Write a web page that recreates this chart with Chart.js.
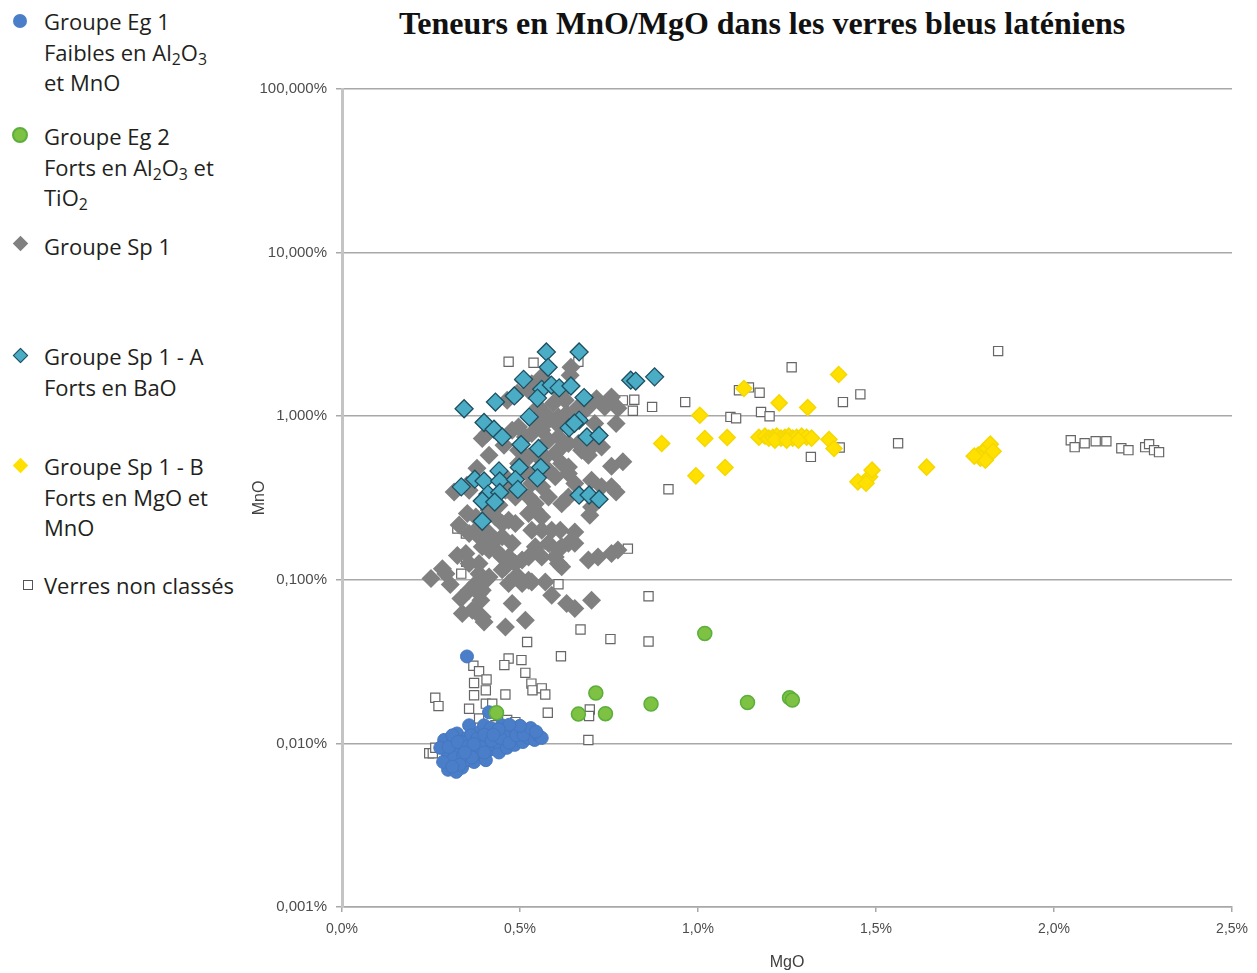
<!DOCTYPE html>
<html>
<head>
<meta charset="utf-8">
<script src="https://cdn.jsdelivr.net/npm/chart.js@4.4.0/dist/chart.umd.min.js"></script>
<style>
  body { margin: 0; background: #fff; width: 1257px; height: 973px; position: relative; overflow: hidden; }
  #title { position: absolute; left: 262px; width: 1000px; top: 5px; text-align: center;
    font: bold 32px "Liberation Serif", "Times New Roman", serif; color: #111; }
  .leg { position: absolute; left: 44px; font: 22px "Open Sans", sans-serif; line-height: 30.5px; color: #231f20; }
  .leg sub { font-size: 0.72em; vertical-align: -0.25em; line-height: 0; }
  .mk { position: absolute; box-sizing: border-box; }
  #chartWrap { position: absolute; left: 240px; top: 0; }
</style>
</head>
<body>
<div id="title">Teneurs en MnO/MgO dans les verres bleus laténiens</div>

<div class="mk" style="left:13px;top:14px;width:14px;height:14px;border-radius:50%;background:#4a7ec8"></div>
<div class="leg" style="top:6px">Groupe Eg 1<br>Faibles en Al<sub>2</sub>O<sub>3</sub><br>et MnO</div>

<div class="mk" style="left:12px;top:127px;width:16px;height:16px;border-radius:50%;background:#7dc242;border:2px solid #5dae3c"></div>
<div class="leg" style="top:121px">Groupe Eg 2<br>Forts en Al<sub>2</sub>O<sub>3</sub> et<br>TiO<sub>2</sub></div>

<div class="mk" style="left:14.5px;top:237.5px;width:11px;height:11px;background:#808080;transform:rotate(45deg)"></div>
<div class="leg" style="top:231px">Groupe Sp 1</div>

<div class="mk" style="left:14.5px;top:349.5px;width:11px;height:11px;background:#4bacc6;border:1.5px solid #1f4e5f;transform:rotate(45deg)"></div>
<div class="leg" style="top:341px">Groupe Sp 1 - A<br>Forts en BaO</div>

<div class="mk" style="left:14.5px;top:459.5px;width:11px;height:11px;background:#ffe000;transform:rotate(45deg)"></div>
<div class="leg" style="top:451px">Groupe Sp 1 - B<br>Forts en MgO et<br>MnO</div>

<div class="mk" style="left:23px;top:580px;width:10px;height:10px;border:1.3px solid #555;background:#fff"></div>
<div class="leg" style="top:570px">Verres non classés</div>

<div id="chartWrap"><canvas id="chart" width="1017" height="973"></canvas></div>

<script>
// axis ticks (percent)
const xTicks = [0, 0.5, 1, 1.5, 2, 2.5]
const yTicks = [0.001, 0.01, 0.1, 1, 10, 100]

// [MgO %, MnO %]
const eg1 = [
  [0.287,0.0105],[0.296,0.0088],[0.307,0.0077],[0.315,0.0098],[0.323,0.0115],[0.329,0.0082],[0.337,0.0071],
  [0.343,0.0094],[0.351,0.0108],[0.357,0.0129],[0.363,0.0088],[0.371,0.0077],[0.379,0.0099],[0.385,0.0117],
  [0.393,0.0085],[0.399,0.0129],[0.407,0.0108],[0.413,0.0091],[0.418,0.0124],[0.427,0.0098],[0.435,0.0112],
  [0.441,0.0088],[0.449,0.0129],[0.455,0.0105],[0.463,0.0094],[0.468,0.0121],[0.477,0.0108],[0.485,0.0098],
  [0.491,0.0124],[0.499,0.0112],[0.508,0.0102],[0.516,0.0121],[0.524,0.0108],[0.533,0.0117],[0.541,0.0105],
  [0.552,0.0112],[0.561,0.0108],[0.298,0.0069],[0.321,0.0067],[0.346,0.0079],[0.374,0.0091],[0.404,0.0079],
  [0.432,0.0102],[0.457,0.0115],[0.482,0.0124],[0.363,0.0112],[0.335,0.0102],[0.315,0.0082],[0.276,0.0094],
  [0.284,0.0077],[0.300,0.0095],[0.310,0.0112],[0.325,0.0102],[0.340,0.0085],[0.355,0.0096],[0.365,0.0082],
  [0.380,0.0107],[0.390,0.0095],[0.400,0.0113],[0.420,0.0104],[0.445,0.0108],[0.470,0.0101],[0.490,0.0112],
  [0.510,0.0113],[0.530,0.0124],[0.545,0.0118],[0.500,0.0128],[0.470,0.0130],[0.440,0.0122],[0.425,0.0113],
  [0.400,0.0088],[0.370,0.0099],[0.345,0.0088],[0.330,0.0074],[0.310,0.0072],[0.351,0.034],[0.413,0.0155]
]

const eg2 = [
  [1.019,0.047],[0.713,0.0203],[0.664,0.0151],[0.740,0.0152],[0.868,0.0174],
  [1.139,0.0178],[1.257,0.019],[1.265,0.0184],[0.434,0.0154]
]

const sp1 = [
  [0.643,1.99],[0.641,1.78],[0.613,1.38],[0.627,1.25],[0.594,1.20],[0.552,1.14],[0.571,1.04],[0.552,0.99],
  [0.580,0.946],[0.524,1.44],[0.492,1.38],[0.464,1.25],[0.715,1.28],[0.738,1.14],[0.757,1.31],[0.770,0.902],
  [0.692,1.14],[0.664,1.14],[0.673,1.04],[0.631,1.04],[0.608,0.99],[0.617,0.902],[0.496,0.86],[0.478,0.821],
  [0.394,0.731],[0.408,0.784],[0.515,0.747],[0.533,0.784],[0.561,0.821],[0.580,0.713],[0.608,0.747],[0.636,0.681],
  [0.664,0.681],[0.701,0.649],[0.729,0.649],[0.524,0.564],[0.561,0.538],[0.599,0.592],[0.617,0.514],[0.636,0.490],
  [0.692,0.578],[0.757,0.495],[0.789,0.526],[0.580,0.468],[0.599,0.426],[0.533,0.388],[0.561,0.370],[0.701,0.406],
  [0.729,0.370],[0.757,0.370],[0.770,0.344],[0.468,0.406],[0.459,0.353],[0.487,0.321],[0.524,0.321],[0.543,0.292],
  [0.580,0.321],[0.617,0.292],[0.636,0.321],[0.701,0.279],[0.696,0.248],[0.315,0.344],[0.357,0.353],[0.352,0.254],
  [0.376,0.242],[0.413,0.266],[0.431,0.242],[0.450,0.221],[0.487,0.221],[0.524,0.254],[0.543,0.266],[0.561,0.242],
  [0.533,0.201],[0.561,0.201],[0.589,0.201],[0.613,0.201],[0.654,0.196],[0.357,0.192],[0.385,0.183],[0.413,0.192],
  [0.450,0.183],[0.478,0.167],[0.394,0.159],[0.431,0.152],[0.468,0.138],[0.487,0.126],[0.506,0.132],[0.543,0.159],
  [0.580,0.167],[0.608,0.152],[0.636,0.167],[0.561,0.138],[0.608,0.126],[0.324,0.141],[0.348,0.145],[0.357,0.126],
  [0.385,0.126],[0.692,0.132],[0.719,0.138],[0.757,0.145],[0.775,0.152],[0.282,0.117],[0.292,0.109],[0.385,0.109],
  [0.413,0.104],[0.394,0.0949],[0.450,0.115],[0.487,0.104],[0.250,0.102],[0.304,0.0936],[0.357,0.0864],[0.385,0.0824],
  [0.468,0.0949],[0.506,0.0949],[0.533,0.0971],[0.571,0.0971],[0.589,0.0805],[0.631,0.0716],[0.654,0.0668],[0.701,0.075],
  [0.334,0.0769],[0.390,0.075],[0.478,0.0716],[0.515,0.0566],[0.338,0.0622],[0.376,0.0637],[0.394,0.0593],[0.459,0.0515],
  [0.468,0.231],[0.376,0.201],[0.404,0.175],[0.431,0.175],[0.413,0.152],[0.450,0.138],[0.524,0.138],[0.617,0.159],
  [0.654,0.167],[0.599,0.138],[0.617,0.120],[0.404,0.0995],[0.376,0.0949],[0.394,0.0864],[0.496,0.104],[0.524,0.0995],
  [0.459,0.120],[0.366,0.0652],[0.399,0.0553],[0.543,0.902],[0.599,0.923],[0.682,1.09],[0.710,0.902],[0.692,0.713],
  [0.673,0.620],[0.608,0.620],[0.571,0.564],[0.496,0.514],[0.524,0.447],[0.636,0.447],[0.654,0.388],[0.510,1.66],
  [0.533,1.58],[0.561,1.74],[0.775,1.12],[0.413,0.578],[0.379,0.481],[0.351,0.379],[0.441,0.286],[0.329,0.216],
  [0.496,0.620],[0.455,0.665]
]

const sp1a = [
  [0.574,2.47],[0.666,2.47],[0.579,1.99],[0.510,1.68],[0.561,1.46],[0.588,1.55],[0.610,1.49],[0.643,1.53],
  [0.549,1.29],[0.484,1.33],[0.431,1.22],[0.680,1.30],[0.343,1.11],[0.811,1.66],[0.825,1.64],[0.878,1.74],
  [0.526,0.99],[0.399,0.915],[0.427,0.833],[0.450,0.747],[0.503,0.671],[0.552,0.635],[0.638,0.848],[0.666,0.946],
  [0.653,0.906],[0.688,0.747],[0.722,0.762],[0.558,0.486],[0.498,0.486],[0.441,0.463],[0.549,0.420],[0.373,0.412],
  [0.399,0.402],[0.443,0.402],[0.487,0.410],[0.494,0.357],[0.335,0.370],[0.410,0.334],[0.443,0.342],[0.394,0.303],
  [0.429,0.299],[0.666,0.329],[0.694,0.330],[0.722,0.311],[0.394,0.228]
]

const sp1b = [
  [1.395,1.80],[1.129,1.476],[1.228,1.206],[1.308,1.13],[1.005,1.014],[0.898,0.681],[1.019,0.731],[1.082,0.741],
  [1.171,0.744],[1.188,0.755],[1.199,0.734],[1.210,0.744],[1.221,0.755],[1.233,0.734],[1.244,0.744],[1.255,0.755],
  [1.266,0.734],[1.277,0.744],[1.291,0.755],[1.305,0.744],[1.319,0.734],[1.216,0.713],[1.249,0.713],[1.282,0.713],
  [1.368,0.721],[1.382,0.635],[0.994,0.432],[1.076,0.486],[1.449,0.397],[1.482,0.426],[1.489,0.468],[1.472,0.389],
  [1.642,0.488],[1.787,0.578],[1.799,0.603],[1.813,0.637],[1.821,0.675],[1.829,0.611],[1.793,0.554],[1.807,0.538],
  [1.776,0.57]
]

const nonClasses = [
  [0.468,2.15],[0.538,2.12],[0.664,2.15],[0.789,1.25],[0.821,1.26],[0.817,1.08],[0.871,1.14],[0.964,1.22],
  [1.115,1.44],[1.143,1.50],[1.173,1.39],[1.091,0.99],[1.107,0.97],[1.177,1.06],[1.201,1.00],[1.263,1.99],
  [1.407,1.22],[1.456,1.36],[1.398,0.644],[1.317,0.564],[0.917,0.358],[1.562,0.684],[1.843,2.50],
  [2.047,0.713],[2.058,0.647],[2.086,0.684],[2.117,0.703],[2.147,0.703],[2.189,0.637],[2.209,0.620],[2.256,0.647],
  [2.267,0.675],[2.281,0.620],[2.295,0.603],
  [0.803,0.155],[0.861,0.0794],[0.670,0.0497],[0.754,0.0434],[0.861,0.0420],[0.615,0.0341],[0.520,0.0417],
  [0.468,0.0330],[0.504,0.0323],[0.456,0.0301],[0.515,0.0270],[0.532,0.0232],[0.535,0.0211],[0.561,0.0217],
  [0.571,0.0199],[0.459,0.0199],[0.404,0.0211],[0.369,0.0298],[0.385,0.0276],[0.406,0.0246],[0.371,0.0234],
  [0.371,0.0197],[0.262,0.0190],[0.271,0.0169],[0.357,0.0163],[0.404,0.0175],[0.422,0.0175],[0.578,0.0154],
  [0.464,0.0139],[0.487,0.0135],[0.385,0.0142],[0.431,0.0129],[0.696,0.0161],[0.694,0.0147],[0.692,0.0105],
  [0.245,0.0087],[0.255,0.0087],[0.262,0.0094],[0.366,0.0077],[0.399,0.0093],
  [0.324,0.206],[0.348,0.192],[0.349,0.129],[0.335,0.109],[0.292,0.109],[0.608,0.094],[0.571,0.145]
]

const toXY = arr => arr.map(p => ({x: p[0], y: p[1]}))
const pctComma = (v, d) => v.toFixed(d).replace('.', ',') + '%'

const fontFam = 'Liberation Sans, Arial, sans-serif'
const gridGrey = '#a8a8a8'

const data = {
  datasets: [
    {label: 'Groupe Eg 1', data: toXY(eg1), order: 1, pointStyle: 'circle', pointRadius: 6.5,
      backgroundColor: '#4a7ec8', borderColor: '#4577c0', borderWidth: 1},
    {label: 'Groupe Eg 2', data: toXY(eg2), order: 0, pointStyle: 'circle', pointRadius: 7,
      backgroundColor: '#7dc242', borderColor: '#5dae3c', borderWidth: 1.5},
    {label: 'Groupe Sp 1', data: toXY(sp1), order: 5, pointStyle: 'rectRot', pointRadius: 9.5,
      backgroundColor: '#808080', borderColor: '#808080', borderWidth: 0},
    {label: 'Groupe Sp 1 - A', data: toXY(sp1a), order: 3, pointStyle: 'rectRot', pointRadius: 9,
      backgroundColor: '#4bacc6', borderColor: '#1f4e5f', borderWidth: 1.3},
    {label: 'Groupe Sp 1 - B', data: toXY(sp1b), order: 4, pointStyle: 'rectRot', pointRadius: 8,
      backgroundColor: '#ffe000', borderColor: '#f5d800', borderWidth: 1.5},
    {label: 'Verres non classés', data: toXY(nonClasses), order: 10, pointStyle: 'rect', pointRadius: 6.5,
      backgroundColor: '#ffffff', borderColor: '#666666', borderWidth: 1.2}
  ]
}

const options = {
  responsive: false,
  animation: false,
  layout: {padding: {top: 89, right: 19, left: 0, bottom: 0}},
  plugins: {legend: {display: false}, tooltip: {enabled: false}},
  scales: {
    x: {
      type: 'linear',
      min: 0,
      max: 2.5,
      afterBuildTicks: scale => { scale.ticks = xTicks.map(v => ({value: v})) },
      afterFit: scale => { scale.height = 66 },
      ticks: {color: '#4d4d4d', font: {family: fontFam, size: 14}, padding: 9, maxRotation: 0,
        callback: v => pctComma(v, 1)},
      grid: {drawOnChartArea: false, drawTicks: true, tickLength: 5, color: gridGrey, lineWidth: 1.5},
      border: {display: true, color: gridGrey, width: 1.5},
      title: {display: true, text: 'MgO', color: '#404040',
        font: {family: fontFam, size: 16}, padding: {top: 0, bottom: 1}}
    },
    y: {
      type: 'logarithmic',
      min: 0.001,
      max: 100,
      afterBuildTicks: scale => { scale.ticks = yTicks.map(v => ({value: v})) },
      afterFit: scale => { scale.width = 102 },
      ticks: {color: '#4d4d4d', font: {family: fontFam, size: 15}, padding: 9,
        callback: v => pctComma(v, 3)},
      grid: {color: gridGrey, lineWidth: 1.5, drawTicks: true, tickLength: 6},
      border: {display: true, color: '#c4c4c4', width: 3},
      title: {display: true, text: 'MnO', color: '#404040',
        font: {family: fontFam, size: 16}, padding: {top: 10, bottom: 0}}
    }
  }
}

new Chart(document.getElementById('chart'), {
  type: 'scatter',
  data: data,
  options: options
})
</script>
</body>
</html>
